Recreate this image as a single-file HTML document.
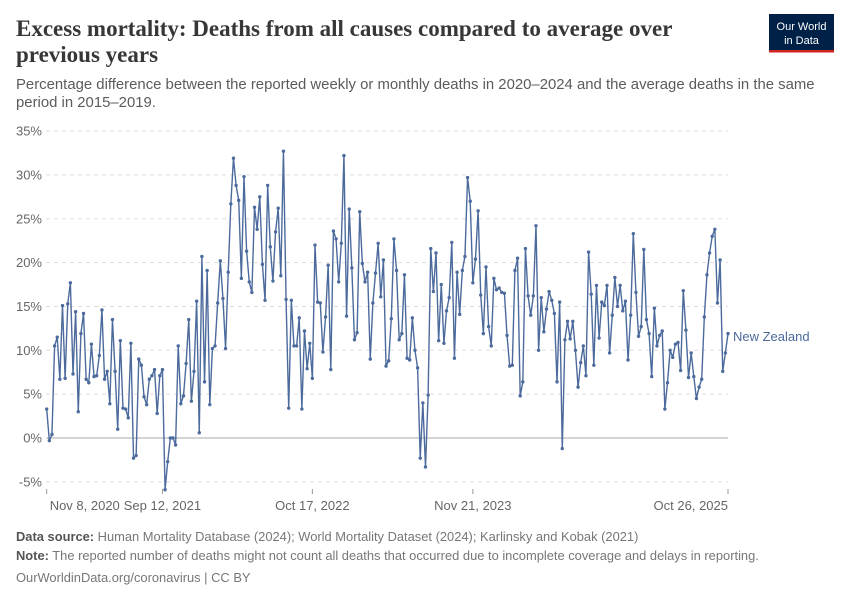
<!DOCTYPE html>
<html><head><meta charset="utf-8"><style>
body{margin:0;background:#fff;width:850px;height:600px;overflow:hidden;font-family:"Liberation Sans",sans-serif}
</style></head><body>
<svg width="850" height="600" xmlns="http://www.w3.org/2000/svg">
<text font-family="Liberation Serif,serif" font-size="23" font-weight="bold" fill="#373737"><tspan x="16" y="36">Excess mortality: Deaths from all causes compared to average over</tspan><tspan x="16" y="62">previous years</tspan></text>
<text font-size="14.9" fill="#5b5b5b"><tspan x="16" y="89">Percentage difference between the reported weekly or monthly deaths in 2020–2024 and the average deaths in the same</tspan><tspan x="16" y="107">period in 2015–2019.</tspan></text>
<g><rect x="769" y="14" width="65" height="38" fill="#002147"/><rect x="769" y="50" width="65" height="2.5" fill="#ce261e"/>
<text x="801.5" y="30" text-anchor="middle" font-size="11" fill="#fff">Our World</text><text x="801.5" y="44" text-anchor="middle" font-size="11" fill="#fff">in Data</text></g>
<g id="grid"></g><g id="series"></g>
<text x="733" y="341" font-size="13" fill="#4c6a9c">New Zealand</text>
<text x="16" y="541" font-size="12.9" fill="#777"><tspan font-weight="bold" fill="#555">Data source:</tspan> Human Mortality Database (2024); World Mortality Dataset (2024); Karlinsky and Kobak (2021)</text>
<text x="16" y="560" font-size="12.9" fill="#777"><tspan font-weight="bold" fill="#555">Note:</tspan> The reported number of deaths might not count all deaths that occurred due to incomplete coverage and delays in reporting.</text>
<text x="16" y="582" font-size="12.9" fill="#777">OurWorldinData.org/coronavirus | CC BY</text>
</svg>
<script>
const values=[3.3,-0.3,0.4,10.5,11.5,6.7,15.1,6.8,15.3,17.7,7.3,14.4,3.0,11.9,14.2,6.7,6.3,10.7,7.0,7.1,9.4,14.6,6.7,7.6,3.9,13.5,7.6,1.0,11.1,3.4,3.3,2.3,10.8,-2.3,-2.0,9.0,8.3,4.7,3.8,6.7,7.1,7.8,2.8,7.1,7.8,-5.9,-2.7,0,0.0,-0.8,10.5,3.9,4.8,8.5,13.5,4.2,7.6,15.6,0.6,20.7,6.4,19.1,
3.8,10.2,10.5,15.4,20.2,15.9,10.2,18.9,26.7,31.9,28.8,27.1,18.2,29.8,21.3,17.8,16.6,26.3,23.8,27.5,19.8,15.7,28.8,21.8,17.9,23.5,26.2,18.5,32.7,15.8,3.4,15.7,10.5,10.5,13.7,3.3,12.2,7.9,10.8,6.8,22.0,15.5,15.4,9.8,13.8,19.7,7.8,23.6,22.7,17.8,22.2,32.2,13.9,26.1,19.4,11.2,12.0,25.8,19.9,17.8,18.9,9.0,15.4,18.8,22.2,
16.1,20.3,8.2,8.8,13.6,22.7,19.1,11.2,11.9,18.6,9.1,8.9,13.7,10.0,8.0,-2.3,4.0,-3.3,4.9,21.6,16.7,21.1,11.1,17.5,10.8,14.5,16.0,22.3,9.1,18.9,14.1,19.1,20.7,29.7,27.0,17.7,20.4,25.9,16.3,11.9,19.5,12.7,10.5,18.2,16.9,17.1,16.6,16.5,11.7,8.2,8.3,19.1,20.5,4.8,6.4,21.6,16.2,14.0,16.2,24.2,10.0,16.0,12.1,14.7,16.7,
15.7,14.2,6.4,15.5,-1.2,11.2,13.3,11.3,13.3,10.0,5.8,8.6,10.5,7.1,21.2,16.4,8.3,17.4,11.4,15.5,15.1,17.4,9.7,14.0,18.3,15.0,17.4,14.5,15.6,8.9,14.0,23.3,16.6,11.6,12.7,21.5,13.5,11.9,7.0,14.8,10.5,11.7,12.2,3.3,6.3,10.0,9.2,10.7,10.9,7.7,16.8,12.3,6.9,9.7,7.0,4.5,5.8,6.7,13.8,18.6,21.1,23.0,23.8,15.4,20.3,7.6,9.7,11.9];
const yTicks=[-5,0,5,10,15,20,25,30,35];
const xTickWeeks=[0,44,101,162,259];
const xTickLabels=["Nov 8, 2020","Sep 12, 2021","Oct 17, 2022","Nov 21, 2023","Oct 26, 2025"];
const NS="http://www.w3.org/2000/svg";
const X0=46.7,X1=728,Y0=438,PX=8.77;
const xs=i=>X0+i*(X1-X0)/(values.length-1);
const ys=v=>Y0-v*PX;
function mk(t,a,p){const e=document.createElementNS(NS,t);for(const k in a)e.setAttribute(k,a[k]);p.appendChild(e);return e;}
const g=document.getElementById('grid');
yTicks.forEach(t=>{
 const l=mk('line',{x1:46,x2:728,y1:ys(t),y2:ys(t),stroke:t===0?'#a8a8a8':'#dddddd','stroke-width':1,'stroke-dasharray':t===0?'':'4,4'},g);
 
 
 const tx=mk('text',{x:42,y:ys(t)+4.5,'text-anchor':'end','font-size':13,fill:'#666'},g);
 tx.textContent=t+'%';
 
 
});
xTickWeeks.forEach((w,k)=>{
 const x=xs(w);
 const l=mk('line',{x1:x,x2:x,y1:489,y2:494,stroke:'#999'},g);
 
 
 const anchor=k===0?'start':(k===xTickWeeks.length-1?'end':'middle');
 const tx=mk('text',{x:k===0?x+3:x,y:510,'text-anchor':anchor,'font-size':13,fill:'#666'},g);
 tx.textContent=xTickLabels[k];
 
 
});
const s=document.getElementById('series');
const line=mk('polyline',{points:values.map((v,i)=>xs(i)+','+ys(v)).join(' '),fill:'none',stroke:'#4c6a9c','stroke-width':1.4,'stroke-linejoin':'round'},s);


values.forEach((v,i)=>{
 const c=mk('circle',{cx:xs(i),cy:ys(v),r:1.7,fill:'#4c6a9c'},s);
 
 
});
</script>
</body></html>
